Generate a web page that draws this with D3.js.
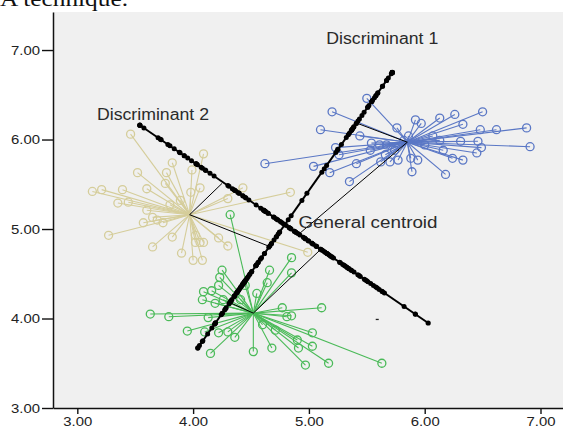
<!DOCTYPE html>
<html><head><meta charset="utf-8">
<script src="https://cdn.jsdelivr.net/npm/d3@7"></script>
<style>body{margin:0;background:#fff;} svg{display:block;}</style>
</head><body>
<svg id="c" width="563" height="426"></svg>
<script>
// ---------- data ----------
const xTicks = [3, 4, 5, 6, 7];
const xTickLabels = ["3.00", "4.00", "5.00", "6.00", "7.00"];
const yTicks = [3, 4, 5, 6, 7];
const yTickLabels = ["3.00", "4.00", "5.00", "6.00", "7.00"];

const groupNames = ["Group 1", "Group 2", "Group 3"];
const centroid1 = [3.97, 5.16];   // beige
const centroid2 = [4.52, 4.06];   // green
const centroid3 = [5.85, 5.97];   // blue
const generalCentroid = [4.79, 5.03];

const points1 = [[3.46,6.06],[4.09,5.84],[3.82,5.74],[3.52,5.63],[3.77,5.63],[3.99,5.66],[3.13,5.42],[3.21,5.44],[3.39,5.44],[3.60,5.45],[3.98,5.41],[4.06,5.46],[3.35,5.29],[3.44,5.30],[4.43,5.46],[3.60,5.21],[3.65,5.13],[3.69,5.10],[3.74,5.07],[3.57,5.07],[3.27,4.93],[3.65,4.80],[3.82,4.91],[3.90,4.73],[4.00,4.65],[4.08,4.65],[4.02,4.85],[4.06,4.85],[4.09,4.85],[4.02,4.93],[4.22,4.90],[4.30,4.81],[4.84,5.41],[4.99,4.74],[3.89,5.32],[3.80,5.27],[3.76,5.51],[4.30,5.34]];

const points2 = [[4.32,5.16],[4.85,4.68],[4.66,4.54],[4.85,4.51],[4.64,4.40],[4.55,4.28],[4.25,4.54],[4.23,4.46],[4.09,4.30],[4.16,4.31],[4.08,4.21],[4.19,4.17],[3.63,4.05],[3.79,4.02],[4.13,4.01],[3.95,3.86],[4.10,3.85],[4.22,3.84],[4.30,3.85],[4.36,3.79],[4.15,3.61],[4.52,3.63],[4.77,4.12],[5.11,4.12],[4.85,4.03],[4.81,4.02],[5.03,3.84],[4.90,3.76],[5.03,3.69],[4.91,3.67],[4.68,3.67],[4.97,3.48],[5.17,3.50],[5.63,3.50],[4.41,4.21],[4.45,4.37],[4.60,3.93],[4.71,3.87],[4.26,4.21],[4.22,4.37]];

const points3 = [[5.50,6.46],[5.20,6.31],[5.10,6.11],[5.44,6.04],[5.76,6.13],[5.92,6.22],[5.97,6.18],[6.13,6.24],[6.26,6.28],[6.50,6.31],[6.33,6.17],[6.48,6.11],[6.62,6.11],[6.88,6.13],[6.91,5.92],[6.49,5.91],[6.45,5.85],[6.31,5.98],[6.07,6.04],[6.24,5.79],[6.33,5.77],[6.18,5.61],[5.89,5.64],[5.88,5.79],[5.94,5.77],[6.16,5.88],[5.23,5.91],[5.26,5.83],[5.04,5.70],[5.18,5.63],[5.41,5.73],[5.35,5.53],[5.54,5.96],[5.61,5.94],[5.67,5.94],[5.62,5.75],[5.70,5.75],[5.82,5.99],[5.86,6.04],[4.62,5.73],[5.74,5.88],[5.66,5.83],[5.53,5.88],[6.00,5.94],[5.77,5.77],[6.13,5.99],[6.46,5.98]];

const discriminant1 = [[4.04, 3.67], [5.72, 6.75]];
const discriminant2 = [[3.54, 6.16], [6.03, 3.95]];

// centroid -> foot on discriminant axes
const centroidFeet = [
  [centroid1, [4.25, 5.51]], [centroid1, [4.65, 4.81]],
  [centroid2, [5.10, 4.77]], [centroid2, [4.33, 4.17]],
  [centroid3, [5.42, 6.18]], [centroid3, [4.91, 4.94]]
];
const strayMarks = [[5.59, 3.99]];

const labelTexts = ["Discriminant 1", "Discriminant 2", "General centroid"];
const labelAnchors = [[5.15, 7.07], [3.17, 6.22], [4.91, 5.01]];
const titleText = "A technique.";

// ---------- drawing ----------
const colors = ["#d5cd9a", "#4aba58", "#5a77c5"];
const svg = d3.select("#c");
const x = d3.scaleLinear().domain([2.79, 7.19]).range([53, 562.5]);
const y = d3.scaleLinear().domain([3, 7.425]).range([408, 12]);

svg.append("rect").attr("x", x(2.79)).attr("y", y(7.425))
  .attr("width", 563 - x(2.79)).attr("height", y(3) - y(7.425)).attr("fill", "#f0f0f0");

svg.append("text").attr("x", 0).attr("y", 6)
  .attr("font-family", "'Liberation Serif','Times New Roman',serif").attr("font-size", 22)
  .attr("textLength", 128).attr("lengthAdjust", "spacingAndGlyphs")
  .attr("fill", "#111").text(titleText);

const groups = [[points1, centroid1], [points2, centroid2], [points3, centroid3]];
groups.forEach(([pts, c], gi) => {
  const g = svg.append("g");
  g.selectAll("line").data(pts).join("line")
    .attr("x1", x(c[0])).attr("y1", y(c[1]))
    .attr("x2", d => x(d[0])).attr("y2", d => y(d[1]))
    .attr("stroke", colors[gi]).attr("stroke-width", 1.1);
  g.selectAll("circle").data(pts).join("circle")
    .attr("cx", d => x(d[0])).attr("cy", d => y(d[1])).attr("r", 4)
    .attr("fill", "none").attr("stroke", colors[gi]).attr("stroke-width", 1.3);
});

// thin projection lines
svg.append("g").selectAll("line").data(centroidFeet).join("line")
  .attr("x1", d => x(d[0][0])).attr("y1", d => y(d[0][1]))
  .attr("x2", d => x(d[1][0])).attr("y2", d => y(d[1][1]))
  .attr("stroke", "#000").attr("stroke-width", 1);

const allPts = points1.concat(points2, points3);
function drawDisc(ends) {
  const a = [x(ends[0][0]), y(ends[0][1])], b = [x(ends[1][0]), y(ends[1][1])];
  const dx = b[0] - a[0], dy = b[1] - a[1], L = Math.hypot(dx, dy), ux = dx / L, uy = dy / L;
  const g = svg.append("g");
  g.append("line").attr("x1", a[0]).attr("y1", a[1]).attr("x2", b[0]).attr("y2", b[1])
    .attr("stroke", "#000").attr("stroke-width", 2);
  const dots = allPts.map(p => {
    let s = (x(p[0]) - a[0]) * ux + (y(p[1]) - a[1]) * uy;
    s = Math.max(0, Math.min(L, s));
    return [a[0] + s * ux, a[1] + s * uy];
  });
  g.selectAll("circle.p").data(dots).join("circle").attr("class", "p")
    .attr("cx", d => d[0]).attr("cy", d => d[1]).attr("r", 2.5).attr("fill", "#000");
  g.selectAll("circle.e").data([a, b]).join("circle").attr("class", "e")
    .attr("cx", d => d[0]).attr("cy", d => d[1]).attr("r", 2.6).attr("fill", "#000");
}
drawDisc(discriminant1);
drawDisc(discriminant2);

svg.selectAll("rect.stray").data(strayMarks).join("rect").attr("class", "stray")
  .attr("x", d => x(d[0]) - 1.5).attr("y", d => y(d[1]) - 0.6).attr("width", 3).attr("height", 1.3).attr("fill", "#222");

// labels
const labelLens = [112, 112, 139];
svg.selectAll("text.lab").data(labelTexts).join("text").attr("class", "lab")
  .attr("x", (d, i) => x(labelAnchors[i][0])).attr("y", (d, i) => y(labelAnchors[i][1]))
  .attr("font-family", "'Liberation Sans',Arial,sans-serif").attr("font-size", 16)
  .attr("textLength", (d, i) => labelLens[i]).attr("lengthAdjust", "spacingAndGlyphs")
  .attr("fill", "#2a2a2a").text(d => d);

// axes
const ax = svg.append("g").attr("transform", `translate(0,${y(3)})`)
  .call(d3.axisBottom(x).tickValues(xTicks).tickFormat((d, i) => xTickLabels[i]).tickSize(6).tickSizeOuter(0).tickPadding(3));
const ay = svg.append("g").attr("transform", `translate(${x(2.79)},0)`)
  .call(d3.axisLeft(y).tickValues(yTicks).tickFormat((d, i) => yTickLabels[i]).tickSize(11).tickSizeOuter(0).tickPadding(2));
[ax, ay].forEach(a => {
  a.select(".domain").attr("stroke", "#111").attr("stroke-width", 1.5);
  a.selectAll(".tick line").attr("stroke", "#111").attr("stroke-width", 1.4);
  a.selectAll(".tick text").attr("font-family", "'Liberation Sans',Arial,sans-serif")
    .attr("font-size", 12.5).attr("fill", "#222")
    .attr("textLength", 29).attr("lengthAdjust", "spacingAndGlyphs");
});
</script>
</body></html>
